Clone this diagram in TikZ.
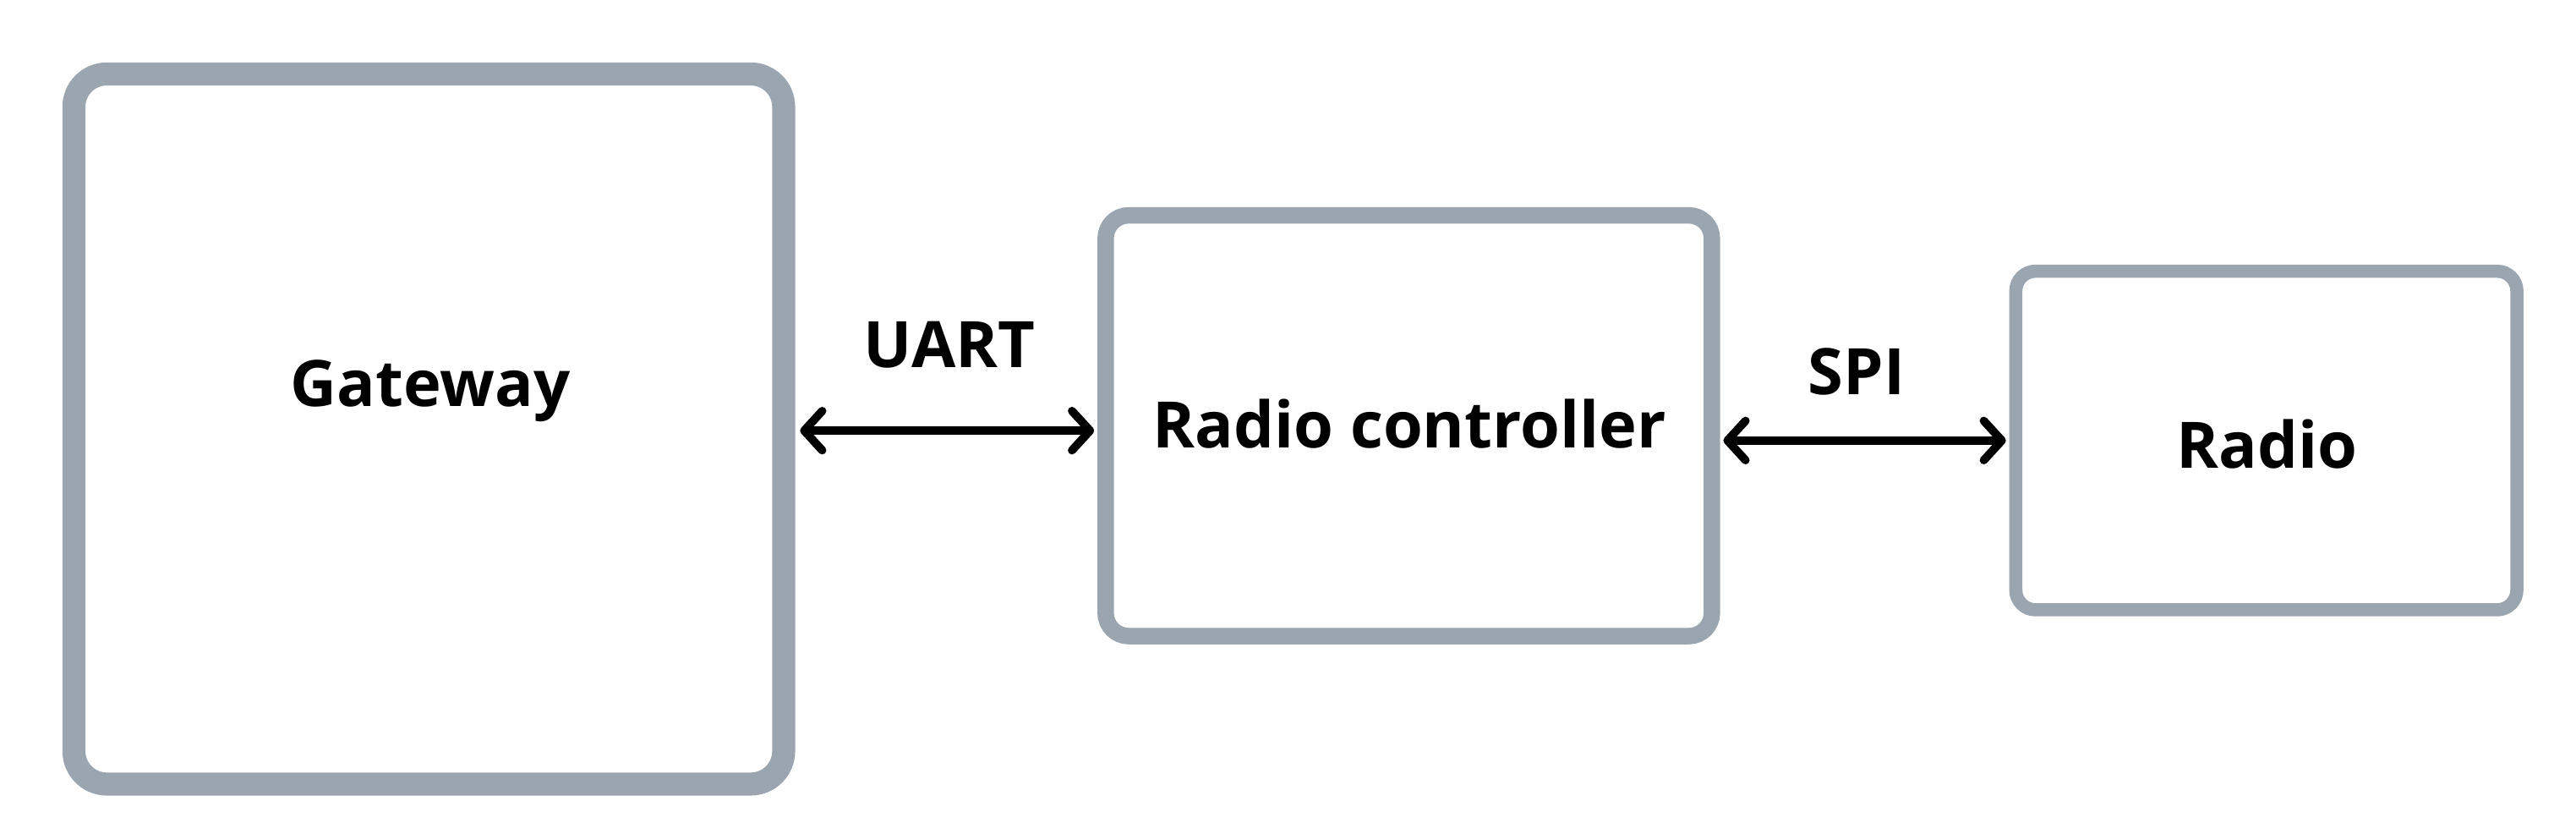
\documentclass[tikz,border=0pt]{standalone}
\usepackage{fontspec}
\setmainfont{Open Sans}
\usetikzlibrary{arrows.meta}
\definecolor{bx}{HTML}{9AA5B0}
\begin{document}
\begin{tikzpicture}[x=1pt,y=-1pt,
  box/.style={draw=bx,fill=white},
  lbl/.style={font=\fontsize{39}{42}\selectfont\bfseries},
  arr/.style={line width=5,{Straight Barb[length=11,width=24,line cap=round,line join=round]}-{Straight Barb[length=11,width=24,line cap=round,line join=round]}}]
\useasboundingbox (0,0) rectangle (1568,500.7);
\draw[box,line width=14,rounded corners=20] (45,45) rectangle (477,477);
\draw[box,line width=10,rounded corners=14] (673,131) rectangle (1042,387);
\draw[box,line width=8,rounded corners=12] (1227,165) rectangle (1532,371);
\node[lbl] (g) at (262,238) {Gateway};
\node[lbl] (rc) at (858,258) {Radio controller};
\node[lbl] (r) at (1380,270) {Radio};
\node[lbl] (u) at (578,210) {UART};
\node[lbl] (s) at (1130,226) {SPI};
\coordinate (a1) at (487,262); \coordinate (a2) at (666,262);
\coordinate (b1) at (1049,268); \coordinate (b2) at (1221,268);
\draw[arr] (a1) -- (a2);
\draw[arr] (b1) -- (b2);
\end{tikzpicture}
\end{document}
